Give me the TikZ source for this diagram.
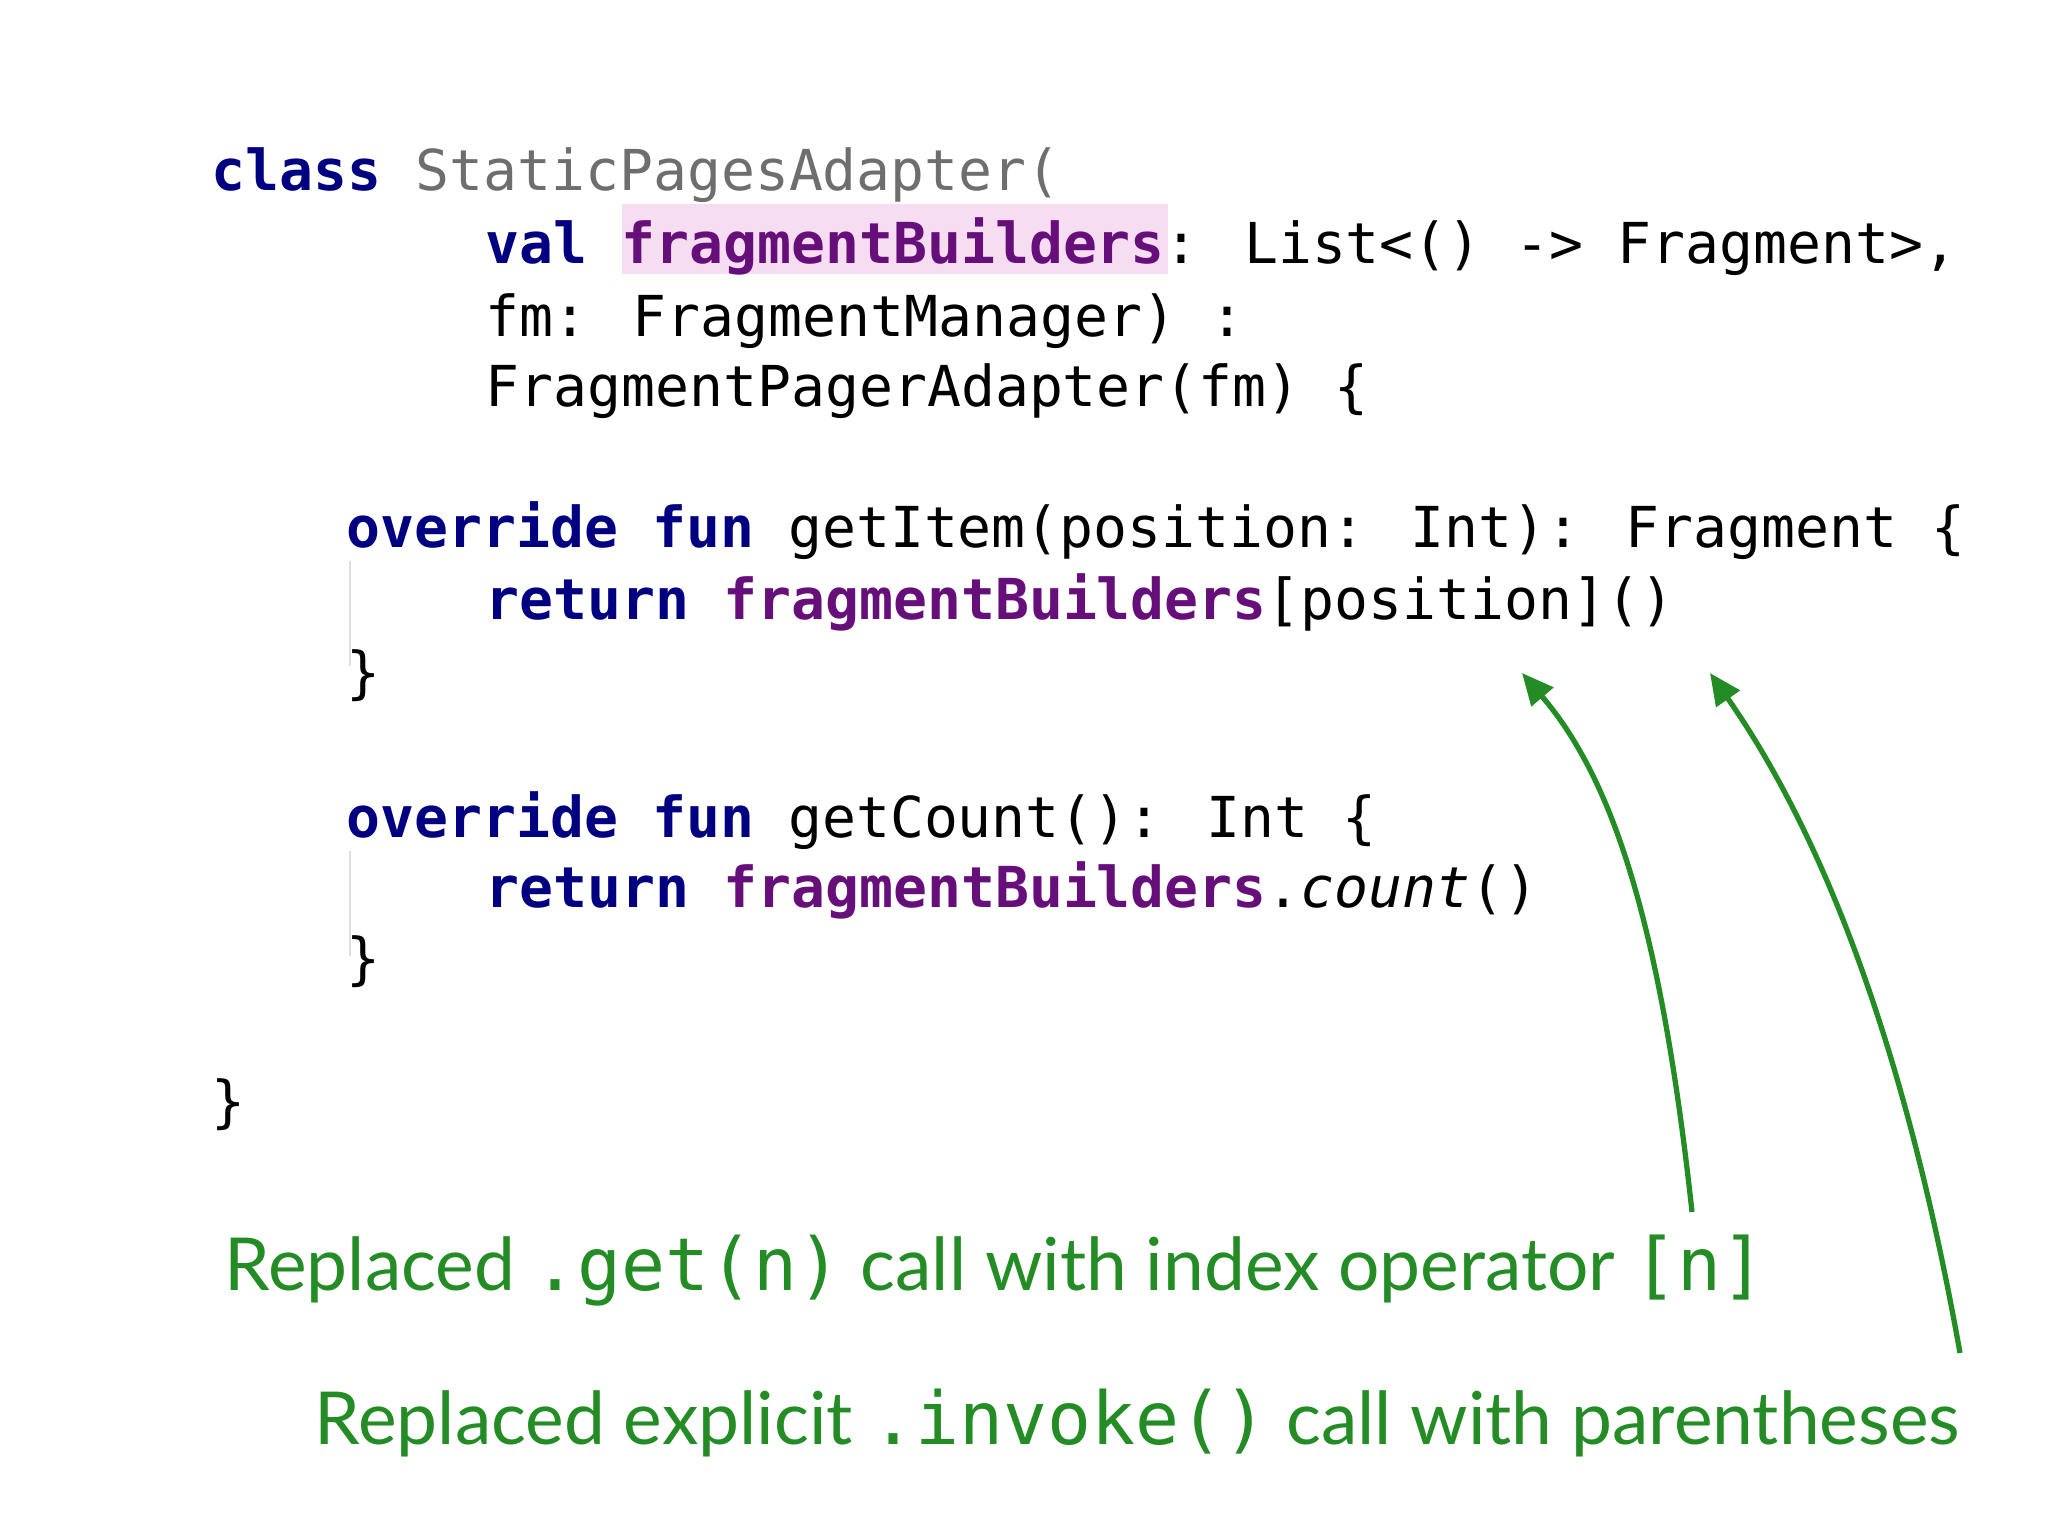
\documentclass[tikz,border=0pt]{standalone}
\usepackage{fontspec}
\usetikzlibrary{arrows.meta}
\newfontfamily\code{DejaVu Sans Mono}
\newfontfamily\capf{Lato}
\definecolor{kw}{RGB}{0,0,128}
\definecolor{fb}{RGB}{102,14,122}
\definecolor{gr}{RGB}{110,110,110}
\definecolor{hl}{RGB}{247,221,242}
\definecolor{grn}{RGB}{36,140,36}
\newcommand{\K}[1]{{\bfseries\color{kw}#1}}
\newcommand{\F}[1]{{\bfseries\color{fb}#1}}
\begin{document}
\begin{tikzpicture}[
  cl/.style={anchor=base west,inner sep=0pt,font=\code\fontsize{16.05pt}{19pt}\selectfont},
  captext/.style={anchor=base west,inner sep=0pt,text=grn,font=\capf\fontsize{20.8pt}{25pt}\selectfont},
  arr/.style={draw=grn,line width=1.5pt,-{Triangle[length=9pt,width=8pt]}}]
\useasboundingbox (0,0) rectangle (20.48,15.36);
\fill[hl] (6.22,12.62) rectangle (11.68,13.32);
\draw[gray!25,line width=0.6pt] (3.50,9.75) -- (3.50,8.7);
\draw[gray!25,line width=0.6pt] (3.50,6.85) -- (3.50,5.8);
\node[cl] (l1) at (2.11,13.45) {\K{class} {\color{gr}StaticPagesAdapter(}};
\node[cl] (l2) at (4.85,12.72) {\K{val} \F{fragmentBuilders}: List<() -> Fragment>,};
\node[cl] (l3) at (4.85,11.99) {fm: FragmentManager) :};
\node[cl] (l4) at (4.85,11.29) {FragmentPagerAdapter(fm) \{};
\node[cl] (l5) at (3.46,9.88) {\K{override} \K{fun} getItem(position: Int): Fragment \{};
\node[cl] (l6) at (4.85,9.16) {\K{return} \F{fragmentBuilders}[position]()};
\node[cl] (l7) at (3.46,8.43) {\}};
\node[cl] (l8) at (3.46,6.98) {\K{override} \K{fun} getCount(): Int \{};
\node[cl] (l9) at (4.85,6.28) {\K{return} \F{fragmentBuilders}.\textit{count}()};
\node[cl] (l10) at (3.46,5.57) {\}};
\node[cl] (l11) at (2.11,4.14) {\}};
\node[captext] (c1) at (2.24,2.45) {Replaced {\code .get(n)} call with index operator {\code [n]}};
\node[captext] (c2) at (3.14,0.91) {Replaced explicit {\code .invoke()} call with parentheses};
\coordinate (a1s) at (16.92,3.24);
\coordinate (a1e) at (15.22,8.63);
\coordinate (a2s) at (19.60,1.83);
\coordinate (a2e) at (17.10,8.63);
\draw[arr] (a1s) .. controls (16.6,6.2) and (16.1,7.6) .. (a1e);
\draw[arr] (a2s) .. controls (19.0,5.2) and (18.1,7.2) .. (a2e);
\end{tikzpicture}
\end{document}
